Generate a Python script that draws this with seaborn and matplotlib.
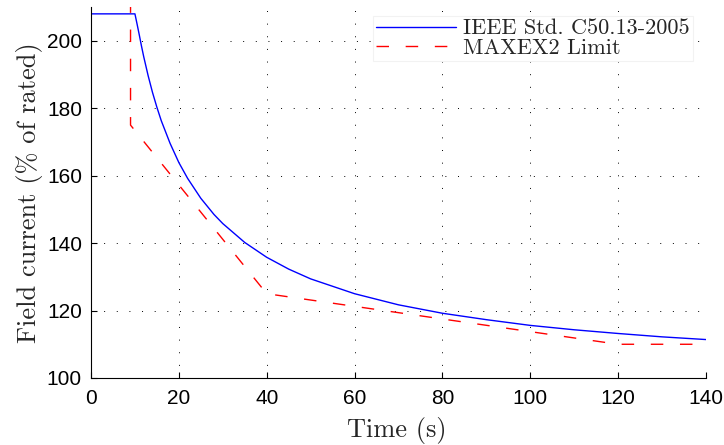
import matplotlib
matplotlib.use("Agg")
import matplotlib.pyplot as plt
import pandas as pd
import seaborn as sns

# IEEE Std. C50.13-2005 field overload curve
ieee_t = [0, 10, 10.5, 11, 11.5, 12, 13, 14, 15, 16, 18, 20, 22, 25, 28, 30,
          35, 40, 45, 50, 60, 70, 80, 90, 100, 110, 120, 130, 140]
ieee_i = [208, 208, 204.9, 201.7, 198.4, 195.3, 189.7, 184.7, 180.3, 176.3,
          169.6, 163.9, 159.2, 153.3, 148.5, 145.8, 140.2, 135.8, 132.3,
          129.4, 125.0, 121.7, 119.2, 117.3, 115.6, 114.3, 113.2, 112.2, 111.4]

# MAXEX2 limit
maxex_t = [9, 9, 40, 120, 140]
maxex_i = [212, 175, 125, 110, 110]

labels = ["IEEE Std. C50.13-2005", "MAXEX2 Limit"]

sns.set_style("ticks")
plt.rcParams["font.family"] = ["Liberation Sans", "DejaVu Sans"]

fig = plt.figure(figsize=(7.24, 4.45), dpi=100)
ax = fig.add_axes([0.1257, 0.1506, 0.975 - 0.1257, 0.984 - 0.1506])

ieee = pd.DataFrame({"t": ieee_t, "i": ieee_i})
maxex = pd.DataFrame({"t": maxex_t, "i": maxex_i})

sns.lineplot(data=ieee, x="t", y="i", ax=ax, color="#0000ff", lw=1.0,
             sort=False, estimator=None, label=labels[0])
sns.lineplot(data=maxex, x="t", y="i", ax=ax, color="#ff0000", lw=1.0,
             sort=False, estimator=None, label=labels[1])
ax.lines[1].set_dashes((9, 12))

ax.set_xlim(0, 140)
ax.set_ylim(100, 210)
ax.set_xticks(range(0, 141, 20))
ax.set_yticks(range(100, 201, 20))
ax.grid(True, color="black", lw=0.7, linestyle=(0, (1, 12)))
ax.tick_params(direction="in", length=4, width=0.8, labelsize=15,
               colors="black")
ax.tick_params(axis="x", pad=8)
ax.tick_params(axis="y", pad=6.5)
for s in ["top", "right"]:
    ax.spines[s].set_visible(False)
for s in ["left", "bottom"]:
    ax.spines[s].set_color("black")
    ax.spines[s].set_linewidth(0.8)

ax.set_xlabel("Time (s)", family="cmr10", fontsize=19)
ax.set_ylabel("Field current (% of rated)", family="cmr10", fontsize=19)
ax.xaxis.set_label_coords(0.497, -0.105)
ax.yaxis.set_label_coords(-0.078, 0.5)

leg = ax.legend(loc="upper right", bbox_to_anchor=(0.957, 0.965),
                bbox_transform=fig.transFigure, prop={"family": "cmr10", "size": 16},
                handlelength=3.6, handletextpad=0.3, labelspacing=0.0,
                borderpad=0.15, borderaxespad=0, fancybox=False, framealpha=1)
leg.get_frame().set_edgecolor("#f2f2f2")
leg.get_frame().set_linewidth(0.8)

fig.savefig("out.png", dpi=100)
